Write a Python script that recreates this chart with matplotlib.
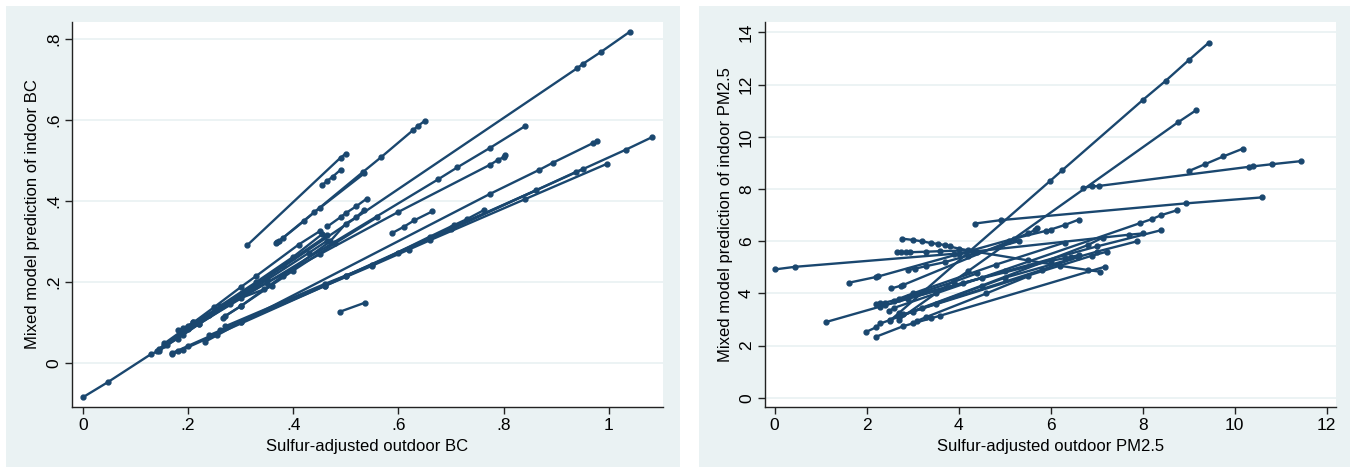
import matplotlib.pyplot as plt
from matplotlib.patches import Rectangle

plt.rcParams['font.family'] = ['Liberation Sans', 'DejaVu Sans']

navy = '#1a476f'
bg = '#eaf2f3'

# household prediction lines, indoor BC vs outdoor BC
bc_x = [
    [0.0, 0.047, 0.13, 0.145, 0.94, 0.95, 0.985, 1.04],
    [0.155, 0.22, 0.675, 0.712, 0.774, 0.841],
    [0.368, 0.372, 0.45, 0.533, 0.567, 0.627, 0.637, 0.65],
    [0.312, 0.49, 0.5],
    [0.455, 0.465, 0.475, 0.49],
    [0.37, 0.38, 0.42, 0.44, 0.535],
    [0.465, 0.49, 0.5, 0.52, 0.54],
    [0.232, 0.255, 0.3, 0.775, 0.868, 0.893, 0.97, 0.977],
    [0.17, 0.18, 0.2, 0.5, 0.6, 1.033, 1.083],
    [0.17, 0.19, 0.46, 0.55, 0.62, 0.66, 0.84, 0.997],
    [0.26, 0.3, 0.46, 0.7, 0.938, 0.95],
    [0.24, 0.5, 0.7, 0.861],
    [0.27, 0.46, 0.55, 0.66, 0.705, 0.73, 0.762],
    [0.587, 0.61, 0.63, 0.664],
    [0.488, 0.537],
    [0.266, 0.3, 0.4, 0.48, 0.56],
    [0.18, 0.19, 0.21, 0.35, 0.45, 0.6, 0.775, 0.79, 0.8, 0.802],
    [0.155, 0.2, 0.25, 0.3, 0.33, 0.41, 0.45],
    [0.14, 0.2, 0.24, 0.3, 0.38, 0.465],
    [0.16, 0.18, 0.22, 0.28, 0.35, 0.43, 0.465],
    [0.19, 0.21, 0.3, 0.345, 0.36],
    [0.27, 0.3, 0.38, 0.47, 0.5, 0.52, 0.535],
    [0.145, 0.2, 0.26, 0.33, 0.4, 0.455],
]
bc_y = [
    [-0.085, -0.048, 0.022, 0.03, 0.728, 0.738, 0.768, 0.818],
    [0.045, 0.096, 0.453, 0.483, 0.531, 0.585],
    [0.295, 0.3, 0.383, 0.472, 0.508, 0.574, 0.585, 0.598],
    [0.29, 0.507, 0.517],
    [0.439, 0.45, 0.46, 0.477],
    [0.298, 0.308, 0.35, 0.372, 0.468],
    [0.337, 0.36, 0.37, 0.387, 0.406],
    [0.052, 0.068, 0.1, 0.418, 0.477, 0.494, 0.543, 0.548],
    [0.025, 0.03, 0.042, 0.215, 0.272, 0.527, 0.558],
    [0.022, 0.033, 0.19, 0.24, 0.28, 0.303, 0.404, 0.492],
    [0.08, 0.1, 0.19, 0.33, 0.472, 0.478],
    [0.068, 0.215, 0.333, 0.426],
    [0.09, 0.195, 0.242, 0.312, 0.34, 0.355, 0.377],
    [0.32, 0.336, 0.352, 0.374],
    [0.126, 0.149],
    [0.112, 0.14, 0.228, 0.296, 0.36],
    [0.08, 0.085, 0.1, 0.198, 0.268, 0.373, 0.49, 0.502, 0.508, 0.513],
    [0.048, 0.09, 0.138, 0.187, 0.215, 0.292, 0.325],
    [0.03, 0.083, 0.118, 0.17, 0.24, 0.315],
    [0.045, 0.06, 0.095, 0.145, 0.205, 0.272, 0.302],
    [0.07, 0.1, 0.16, 0.182, 0.19],
    [0.115, 0.14, 0.215, 0.3, 0.344, 0.36, 0.378],
    [0.035, 0.085, 0.14, 0.2, 0.262, 0.318],
]

# household prediction lines, indoor PM2.5 vs outdoor PM2.5
pm_x = [
    [2.5, 2.7, 5.98, 6.25, 8.0, 8.5, 9.0, 9.43],
    [2.7, 3.5, 4.2, 8.76, 9.16],
    [9.0, 9.35, 9.75, 10.18],
    [6.7, 6.9, 7.05, 10.3, 10.4, 10.8, 11.44],
    [4.36, 4.92, 8.93, 10.59],
    [0.0, 0.44, 3.9, 4.4],
    [2.77, 3.0, 3.2, 3.4, 3.55, 3.7, 3.8, 4.0, 4.3, 5.5, 6.2, 6.8, 7.08],
    [2.65, 2.75, 2.85, 2.95, 3.3, 3.6, 4.2],
    [1.61, 2.2, 2.25, 5.2, 5.9, 6.0, 6.3, 6.61],
    [2.53, 2.75, 2.8, 5.1, 5.5, 5.65, 5.7],
    [1.125, 2.3, 4.5, 7.0, 8.39],
    [1.99, 2.2, 2.3, 5.0, 7.0, 7.88],
    [2.2, 2.8, 3.0, 3.4, 3.6, 7.17],
    [2.48, 2.6, 7.95, 8.2, 8.4, 8.75],
    [2.7, 3.2, 4.5, 6.8, 7.13],
    [2.5, 2.8, 6.9, 7.22],
    [2.2, 2.3, 2.4, 6.0, 6.3, 6.45, 6.61],
    [2.7, 3.0, 4.8, 6.3],
    [2.9, 3.05, 3.3, 3.7, 4.2, 5.3],
    [2.6, 2.9, 3.9, 4.4],
    [3.1, 3.3, 4.6, 5.5],
    [4.0, 4.3, 7.7, 8.0],
    [2.4, 2.9, 4.1, 5.0],
    [3.0, 3.5, 5.8, 6.6],
]
pm_y = [
    [2.95, 3.25, 8.3, 8.72, 11.41, 12.15, 12.94, 13.6],
    [3.0, 4.0, 4.85, 10.55, 11.02],
    [8.69, 8.95, 9.25, 9.55],
    [8.05, 8.1, 8.12, 8.85, 8.87, 8.95, 9.07],
    [6.68, 6.81, 7.45, 7.68],
    [4.92, 5.02, 5.52, 5.6],
    [6.1, 6.05, 6.0, 5.93, 5.9, 5.85, 5.8, 5.72, 5.62, 5.27, 5.06, 4.9, 4.83],
    [5.58, 5.58, 5.58, 5.58, 5.6, 5.62, 5.65],
    [4.41, 4.63, 4.65, 6.1, 6.4, 6.45, 6.62, 6.83],
    [4.19, 4.3, 4.33, 6.0, 6.3, 6.42, 6.5],
    [2.91, 3.5, 4.6, 5.8, 6.42],
    [2.53, 2.7, 2.85, 4.6, 5.6, 6.0],
    [2.34, 2.75, 2.85, 3.05, 3.15, 5.02],
    [3.32, 3.45, 6.7, 6.85, 7.0, 7.19],
    [3.1, 3.45, 4.3, 5.85, 6.14],
    [3.0, 3.2, 5.45, 5.6],
    [3.6, 3.63, 3.65, 5.25, 5.35, 5.4, 5.47],
    [3.8, 4.0, 5.1, 5.95],
    [4.9, 4.95, 5.05, 5.2, 5.45, 6.0],
    [3.7, 3.88, 4.45, 4.77],
    [2.95, 3.1, 4.0, 4.65],
    [5.5, 5.6, 6.25, 6.3],
    [3.55, 3.8, 4.4, 4.85],
    [3.3, 3.6, 4.9, 5.4],
]

bc_xticks = [0, 0.2, 0.4, 0.6, 0.8, 1.0]
bc_xlabels = ['0', '.2', '.4', '.6', '.8', '1']
bc_yticks = [0, 0.2, 0.4, 0.6, 0.8]
bc_ylabels = ['0', '.2', '.4', '.6', '.8']
pm_xticks = [0, 2, 4, 6, 8, 10, 12]
pm_yticks = [0, 2, 4, 6, 8, 10, 12, 14]

W, H = 1350, 468
fig = plt.figure(figsize=(W / 100, H / 100), dpi=100)
fig.patch.set_facecolor('white')

# outer (graph) regions, drawn behind the axes
for x0, x1 in [(6, 680), (699, 1350)]:
    fig.add_artist(Rectangle((x0 / W, 1 / H), (x1 - x0) / W, (467 - 6) / H,
                             transform=fig.transFigure, facecolor=bg,
                             edgecolor='none', zorder=-10))

ax1 = fig.add_axes([72 / W, 1 - 407 / H, (663 - 72) / W, (407 - 22) / H])
ax2 = fig.add_axes([765 / W, 1 - 407 / H, (1336 - 765) / W, (407 - 22) / H])


def style(ax):
    ax.set_facecolor('white')
    for s in ['top', 'right']:
        ax.spines[s].set_visible(False)
    for s in ['left', 'bottom']:
        ax.spines[s].set_color('#222222')
        ax.spines[s].set_linewidth(1.0)
    ax.tick_params(direction='out', length=5, width=1.0, color='#222222',
                   labelsize=12.5, pad=3)
    ax.yaxis.grid(True, color=bg, linewidth=1.3)
    ax.set_axisbelow(True)
    plt.setp(ax.get_yticklabels(), rotation=90, va='center')


for xs, ys in zip(bc_x, bc_y):
    ax1.plot(xs, ys, '-o', color=navy, lw=1.7, ms=3.5)
ax1.set_xlim(-0.0207, 1.103)
ax1.set_ylim(-0.109, 0.842)
ax1.set_xticks(bc_xticks, bc_xlabels)
ax1.set_yticks(bc_yticks, bc_ylabels)
ax1.set_xlabel('Sulfur-adjusted outdoor BC', fontsize=12, labelpad=4)
ax1.set_ylabel('Mixed model prediction of indoor BC', fontsize=12, labelpad=4)
style(ax1)

for xs, ys in zip(pm_x, pm_y):
    ax2.plot(xs, ys, '-o', color=navy, lw=1.7, ms=3.5)
ax2.set_xlim(-0.21, 12.2)
ax2.set_ylim(-0.35, 14.4)
ax2.set_xticks(pm_xticks, [str(v) for v in pm_xticks])
ax2.set_yticks(pm_yticks, [str(v) for v in pm_yticks])
ax2.set_xlabel('Sulfur-adjusted outdoor PM2.5', fontsize=12, labelpad=4)
ax2.set_ylabel('Mixed model prediction of indoor PM2.5', fontsize=12, labelpad=4)
style(ax2)

fig.savefig('out.png', dpi=100, facecolor=fig.get_facecolor())
